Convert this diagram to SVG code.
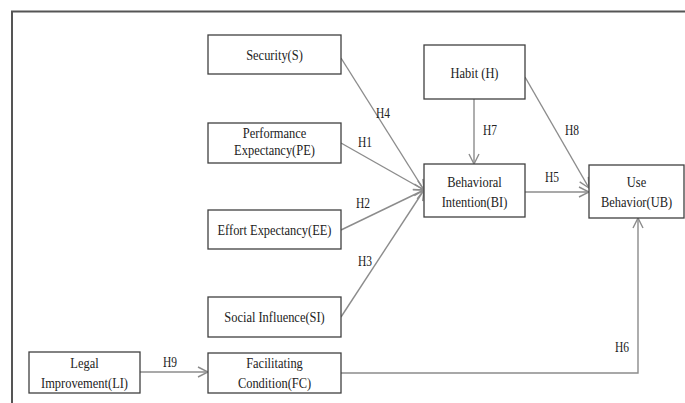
<svg xmlns="http://www.w3.org/2000/svg" width="685" height="403" viewBox="0 0 685 403">
<defs>
<style>
.box{fill:#fff;stroke:#404040;stroke-width:1.3}
.t{font-family:"Liberation Serif","Times New Roman",serif;font-size:15px;fill:#222;text-anchor:middle}
.h{font-family:"Liberation Serif","Times New Roman",serif;font-size:14px;fill:#222;text-anchor:middle}
.c{fill:none;stroke:#8c8c8c;stroke-width:1.4}
</style>
<marker id="ah" viewBox="0 0 12 12" refX="11" refY="6" markerWidth="12" markerHeight="12" markerUnits="userSpaceOnUse" orient="auto">
<path d="M1,1 L11,6 L1,11" fill="none" stroke="#8c8c8c" stroke-width="1.4"/>
</marker>
</defs>
<rect width="685" height="403" fill="#fff"/>
<path d="M12,403 V11.5 H685" fill="none" stroke="#555" stroke-width="2"/>
<g id="connectors">
<line class="c" x1="341" y1="58" x2="424" y2="190" marker-end="url(#ah)"/>
<line class="c" x1="341" y1="143" x2="424" y2="190" marker-end="url(#ah)"/>
<line class="c" x1="341" y1="230" x2="424" y2="190" marker-end="url(#ah)"/>
<line class="c" x1="341" y1="317" x2="424" y2="190" marker-end="url(#ah)"/>
<line class="c" x1="474" y1="99" x2="474" y2="164" marker-end="url(#ah)"/>
<line class="c" x1="525" y1="77" x2="589" y2="188" marker-end="url(#ah)"/>
<line class="c" x1="525" y1="192" x2="589" y2="192" marker-end="url(#ah)"/>
<line class="c" x1="140" y1="372" x2="208" y2="372" marker-end="url(#ah)"/>
<path class="c" d="M341,373 H638 V218" marker-end="url(#ah)"/>
<text class="h" transform="translate(383,118) scale(0.82,1)">H4</text>
<text class="h" transform="translate(365,147) scale(0.82,1)">H1</text>
<text class="h" transform="translate(363,208) scale(0.82,1)">H2</text>
<text class="h" transform="translate(365,266) scale(0.82,1)">H3</text>
<text class="h" transform="translate(490,135) scale(0.82,1)">H7</text>
<text class="h" transform="translate(572,135) scale(0.82,1)">H8</text>
<text class="h" transform="translate(552,182) scale(0.82,1)">H5</text>
<text class="h" transform="translate(622,352) scale(0.82,1)">H6</text>
<text class="h" transform="translate(170,367) scale(0.82,1)">H9</text>
</g>
<g id="security"><rect class="box" x="208" y="35" width="133" height="39"/><text class="t" transform="translate(274.5,60) scale(0.83,1)">Security(S)</text></g>
<g id="performance"><rect class="box" x="208" y="123" width="133" height="40"/><text class="t" transform="translate(274.5,138) scale(0.83,1)">Performance</text><text class="t" transform="translate(274.5,155) scale(0.83,1)">Expectancy(PE)</text></g>
<g id="effort"><rect class="box" x="208" y="210" width="133" height="39"/><text class="t" transform="translate(274.5,235) scale(0.83,1)">Effort Expectancy(EE)</text></g>
<g id="social"><rect class="box" x="208" y="297" width="133" height="40"/><text class="t" transform="translate(274.5,322) scale(0.83,1)">Social Influence(SI)</text></g>
<g id="facilitating"><rect class="box" x="208" y="353" width="133" height="40"/><text class="t" transform="translate(274.5,368) scale(0.83,1)">Facilitating</text><text class="t" transform="translate(274.5,388) scale(0.83,1)">Condition(FC)</text></g>
<g id="legal"><rect class="box" x="29" y="352" width="111" height="41"/><text class="t" transform="translate(84.5,368) scale(0.83,1)">Legal</text><text class="t" transform="translate(84.5,388) scale(0.83,1)">Improvement(LI)</text></g>
<g id="habit"><rect class="box" x="424" y="45" width="101" height="54"/><text class="t" transform="translate(474.5,78) scale(0.83,1)">Habit (H)</text></g>
<g id="intention"><rect class="box" x="424" y="164" width="101" height="53"/><text class="t" transform="translate(474.5,187) scale(0.83,1)">Behavioral</text><text class="t" transform="translate(474.5,207) scale(0.83,1)">Intention(BI)</text></g>
<g id="usebehavior"><rect class="box" x="589" y="165" width="95" height="53"/><text class="t" transform="translate(636.5,187) scale(0.83,1)">Use</text><text class="t" transform="translate(636.5,207) scale(0.83,1)">Behavior(UB)</text></g>
</svg>
